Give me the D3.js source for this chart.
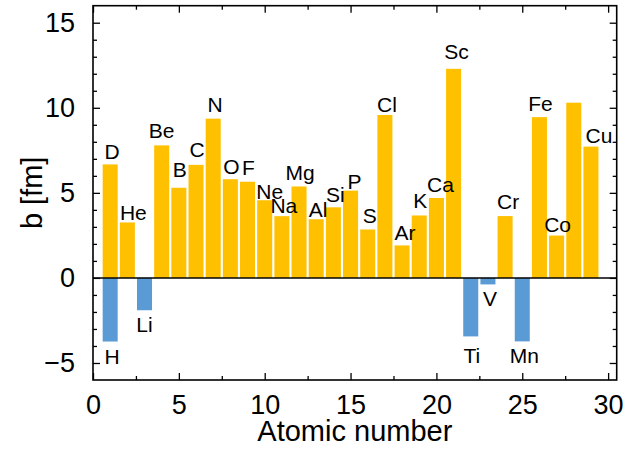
<!DOCTYPE html>
<html>
<head>
<meta charset="utf-8">
<script src="https://cdn.jsdelivr.net/npm/d3@7"></script>
<style>
  html, body { margin: 0; padding: 0; background: #fff; }
  svg { display: block; font-family: "Liberation Sans", Arial, sans-serif; }
</style>
</head>
<body>
<svg id="chart" width="629" height="451"></svg>
<script>
// Coherent neutron scattering lengths b (fm) for the light elements
const symbols = ["H", "D", "He", "Li", "Be", "B", "C", "N", "O", "F", "Ne", "Na", "Mg", "Al", "Si",
  "P", "S", "Cl", "Ar", "K", "Ca", "Sc", "Ti", "V", "Cr", "Mn", "Fe", "Co", "Ni", "Cu"];
const atomicNumbers = [1, 1, 2, 3, 4, 5, 6, 7, 8, 9, 10, 11, 12, 13, 14,
  15, 16, 17, 18, 19, 20, 21, 22, 23, 24, 25, 26, 27, 28, 29];
const scatteringLengths = [-3.739, 6.671, 3.26, -1.90, 7.79, 5.30, 6.646, 9.36, 5.803, 5.654, 4.566, 3.63, 5.375, 3.449, 4.149,
  5.13, 2.847, 9.577, 1.909, 3.67, 4.70, 12.29, -3.438, -0.3824, 3.635, -3.73, 9.45, 2.49, 10.3, 7.718];
const showLabel = symbols.map(s => s !== "Ni");

const xTicks = [0, 5, 10, 15, 20, 25, 30];
const yTicks = [-5, 0, 5, 10, 15];

const width = 629, height = 451;
const margin = { left: 93, right: 12.3, top: 5.7, bottom: 71 };
const svg = d3.select("#chart");

const x = d3.scaleLinear().domain([0, 30.5]).range([margin.left, width - margin.right]);
const y = d3.scaleLinear().domain([-6, 16]).range([height - margin.bottom, margin.top]);

const posColor = "#FFC000", negColor = "#5B9BD5";
const barW = x(0.875) - x(0);

const data = symbols.map((s, i) => ({ s, z: atomicNumbers[i], b: scatteringLengths[i], label: showLabel[i] }));

// bars
svg.append("g").selectAll("rect").data(data).join("rect")
  .attr("x", d => x(d.z) - barW / 2)
  .attr("width", barW)
  .attr("y", d => y(Math.max(0, d.b)))
  .attr("height", d => Math.abs(y(d.b) - y(0)))
  .attr("fill", d => d.b >= 0 ? posColor : negColor);

// small hand-placed adjustments so crowded labels stay readable
const nudge = {
  D: [2, 0], He: [6, 3], Be: [0, -2], B: [1, -6], C: [1, -3], N: [2, -2], O: [1, 0], F: [1, -2],
  Ne: [5, 4], Na: [2, 2], Mg: [1, -1], Al: [2, 3], Si: [2, 0], P: [4, 3], S: [2, -1], Cl: [2, 2],
  Ar: [3, 0], K: [1, -2], Ca: [4, -1], Sc: [3, -5], Ti: [1, 5], V: [2, 0], Cr: [3, -2], Mn: [2, 0],
  Fe: [1, -1], Co: [1, 1], Cu: [8, 1], H: [2, 0], Li: [0, 0]
};

svg.append("g").selectAll("text").data(data.filter(d => d.label)).join("text")
  .attr("x", d => x(d.z) + (nudge[d.s] ? nudge[d.s][0] : 0))
  .attr("y", d => (d.b >= 0 ? y(d.b) - 5 : y(d.b) + 22) + (nudge[d.s] ? nudge[d.s][1] : 0))
  .attr("text-anchor", "middle")
  .attr("font-size", 21)
  .attr("fill", "#000")
  .text(d => d.s);

// zero line
svg.append("line")
  .attr("x1", x(0)).attr("x2", x(30.5))
  .attr("y1", y(0)).attr("y2", y(0))
  .attr("stroke", "#000").attr("stroke-width", 1.5);

// axes with inward ticks on all four sides
const xMinor = d3.range(2.5, 30.1, 5);
const yMinor = d3.range(-5, 16, 1).filter(v => v % 5 !== 0);
const x0 = x.range()[0], x1 = x.range()[1], y0 = y.range()[0], y1 = y.range()[1];

function styleAxis(g) {
  g.select(".domain").remove();
  g.selectAll("line").attr("stroke", "#000").attr("stroke-width", 1.3);
  g.selectAll("text").attr("font-size", 27).attr("fill", "#000")
    .attr("font-family", "'Liberation Sans', Arial, sans-serif");
}

svg.append("g").attr("transform", `translate(0,${y0})`)
  .call(d3.axisBottom(x).tickValues(xTicks).tickSizeInner(-7).tickSizeOuter(0).tickPadding(15).tickFormat(d3.format("d")))
  .call(styleAxis);
svg.append("g").attr("transform", `translate(0,${y0})`)
  .call(d3.axisBottom(x).tickValues(xMinor).tickSizeInner(-4).tickSizeOuter(0).tickFormat(""))
  .call(styleAxis);
svg.append("g").attr("transform", `translate(0,${y1})`)
  .call(d3.axisTop(x).tickValues(xTicks).tickSizeInner(-7).tickSizeOuter(0).tickFormat(""))
  .call(styleAxis);
svg.append("g").attr("transform", `translate(0,${y1})`)
  .call(d3.axisTop(x).tickValues(xMinor).tickSizeInner(-4).tickSizeOuter(0).tickFormat(""))
  .call(styleAxis);

svg.append("g").attr("transform", `translate(${x0},0)`)
  .call(d3.axisLeft(y).tickValues(yTicks).tickSizeInner(-7).tickSizeOuter(0).tickPadding(18).tickFormat(d3.format("d")))
  .call(styleAxis);
svg.append("g").attr("transform", `translate(${x0},0)`)
  .call(d3.axisLeft(y).tickValues(yMinor).tickSizeInner(-4).tickSizeOuter(0).tickFormat(""))
  .call(styleAxis);
svg.append("g").attr("transform", `translate(${x1},0)`)
  .call(d3.axisRight(y).tickValues(yTicks).tickSizeInner(-7).tickSizeOuter(0).tickFormat(""))
  .call(styleAxis);
svg.append("g").attr("transform", `translate(${x1},0)`)
  .call(d3.axisRight(y).tickValues(yMinor).tickSizeInner(-4).tickSizeOuter(0).tickFormat(""))
  .call(styleAxis);

// frame
svg.append("rect")
  .attr("x", x0).attr("y", y1)
  .attr("width", x1 - x0).attr("height", y0 - y1)
  .attr("fill", "none").attr("stroke", "#000").attr("stroke-width", 1.6);

// axis titles
svg.append("text")
  .attr("x", (x0 + x1) / 2).attr("y", 441)
  .attr("text-anchor", "middle").attr("font-size", 29).attr("fill", "#000")
  .text("Atomic number");
svg.append("text")
  .attr("transform", `translate(42,${(y0 + y1) / 2}) rotate(-90)`)
  .attr("text-anchor", "middle").attr("font-size", 29).attr("fill", "#000")
  .text("b [fm]");
</script>
</body>
</html>
